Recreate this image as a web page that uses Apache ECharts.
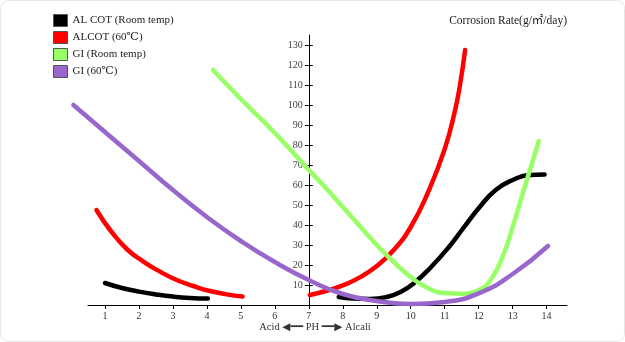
<!DOCTYPE html>
<html>
<head>
<meta charset="utf-8">
<script src="https://cdn.jsdelivr.net/npm/echarts@6/dist/echarts.min.js"></script>
<style>
  html, body { margin: 0; padding: 0; background: #fff; }
  #chart { width: 625px; height: 342px; }
</style>
</head>
<body>
<div id="chart"></div>
<script>
// pH ticks and corrosion-rate ticks
const phTicks = [1, 2, 3, 4, 5, 6, 7, 8, 9, 10, 11, 12, 13, 14];
const rateTicks = [10, 20, 30, 40, 50, 60, 70, 80, 90, 100, 110, 120, 130];

const seriesNames = ['AL COT (Room temp)', 'ALCOT (60℃)', 'GI (Room temp)', 'GI (60℃)'];
const seriesColors = ['#000000', '#ff0000', '#99ff66', '#9966cc'];

// [pH, corrosion rate] readings; each curve may be split in two pieces
const alCotRoomAcid = [[1, 11], [1.5, 8.5], [2, 6.7], [2.5, 5.3], [3, 4.2], [3.5, 3.5], [4.03, 3.2]];
const alCotRoomAlkali = [[7.88, 4], [8.3, 3.2], [8.8, 3], [9.3, 4], [9.7, 6.5], [10.1, 11],
  [10.6, 19], [11.1, 28.5], [11.55, 38.5], [12.03, 49], [12.5, 57.5], [13, 62.5], [13.5, 65], [13.94, 65.2]];

const alCot60Acid = [[0.75, 47.5], [1.15, 37.5], [1.64, 28], [2.13, 21.7], [2.62, 16.7], [3.11, 12.5],
  [3.6, 9.5], [4.09, 7], [4.58, 5.3], [5.05, 4.2]];
const alCot60Alkali = [[7.03, 5], [7.5, 7], [8, 9.8], [8.5, 13.8], [9, 19.5], [9.5, 27.5], [10, 39],
  [10.5, 56], [11, 78], [11.3, 97], [11.45, 110], [11.6, 127.5]];

const giRoom = [[4.18, 117.5], [5, 103], [6, 86], [7, 67.5], [7.5, 58.5], [8, 49], [8.5, 39.5], [9, 30],
  [9.5, 21.5], [10, 14], [10.5, 8.5], [11, 6], [11.5, 5.6], [12, 7.5], [12.35, 12.5], [12.7, 24], [13, 39],
  [13.3, 56], [13.6, 72.5], [13.77, 82]];

const gi60 = [[0.07, 100], [1, 86.5], [2, 72], [3, 57.5], [4, 44], [5, 32], [6, 21.5], [7, 12.5],
  [8, 5.5], [9, 2], [10, 0.5], [11, 1.5], [12, 5.8], [13, 15.5], [14.04, 29.5]];

// plotting scale starts at pH 0; the drawn pH axis starts at 0.5
const xMin = 0, xAxisStart = 0.5, xMax = 14.6, yMin = 0, yMax = 135;
const chartWidth = 625;
const gridRight = 58, gridTop = 35, gridBottom = 37;
const axisLeft = 88, axisRight = chartWidth - gridRight;
const pxPerUnit = (axisRight - axisLeft) / (xMax - xAxisStart);
const plotLeft = axisLeft - (xAxisStart - xMin) * pxPerUnit;
// vertical axis sits at pH 7
const yAxisOffset = -(7 - xMin) * pxPerUnit;

const serif = '"Liberation Serif", "DejaVu Serif", "Noto Sans CJK KR", serif';

function curve(name, color, data) {
  return {
    name: name,
    type: 'line',
    data: data,
    xAxisIndex: 0,
    yAxisIndex: 0,
    smooth: 0.5,
    symbol: 'none',
    color: color,
    lineStyle: { width: 4.5, color: color, cap: 'round', join: 'round' },
    emphasis: { disabled: true },
    z: 3
  };
}

const chart = echarts.init(document.getElementById('chart'), null, { renderer: 'canvas' });
chart.setOption({
  animation: false,
  backgroundColor: '#ffffff',
  title: {
    text: 'Corrosion Rate(g/㎡/day)',
    right: 58,
    top: 15,
    padding: 0,
    textStyle: { fontFamily: serif, fontSize: 11.5, fontWeight: 'normal', color: '#222' }
  },
  legend: {
    orient: 'vertical',
    left: 53,
    top: 14,
    padding: 0,
    itemWidth: 14,
    itemHeight: 12,
    itemGap: 4,
    icon: 'rect',
    data: seriesNames,
    itemStyle: { borderColor: '#555', borderWidth: 1 },
    textStyle: { fontFamily: serif, fontSize: 11, lineHeight: 12, color: '#222' }
  },
  grid: [
    { left: plotLeft, right: gridRight, top: gridTop, bottom: gridBottom },
    { left: axisLeft, right: gridRight, top: gridTop, bottom: gridBottom }
  ],
  xAxis: [{
    gridIndex: 0,
    type: 'value',
    min: xMin,
    max: xMax,
    show: true,
    splitLine: { show: false },
    axisLine: { show: false },
    axisTick: { show: false },
    axisLabel: { show: false }
  }, {
    gridIndex: 1,
    type: 'value',
    min: xAxisStart,
    max: xMax,
    splitLine: { show: false },
    axisLine: { onZero: false, lineStyle: { color: '#000', width: 1 } },
    axisTick: { customValues: phTicks, length: 4, lineStyle: { color: '#000' } },
    axisLabel: { customValues: phTicks, fontFamily: serif, fontSize: 10, color: '#333', margin: 6 }
  }],
  yAxis: [{
    gridIndex: 0,
    type: 'value',
    min: yMin,
    max: yMax,
    position: 'left',
    offset: yAxisOffset,
    splitLine: { show: false },
    axisLine: { show: true, lineStyle: { color: '#000', width: 1 } },
    axisTick: { customValues: rateTicks, length: 4, lineStyle: { color: '#000' } },
    axisLabel: { customValues: rateTicks, fontFamily: serif, fontSize: 10, color: '#444', margin: 6 }
  }, {
    gridIndex: 0,
    type: 'value',
    min: yMin,
    max: yMax,
    position: 'left',
    offset: yAxisOffset,
    splitLine: { show: false },
    axisLine: { show: false },
    axisTick: { customValues: rateTicks, inside: true, length: 4, lineStyle: { color: '#000' } },
    axisLabel: { show: false }
  }, {
    gridIndex: 1,
    type: 'value',
    min: yMin,
    max: yMax,
    show: false
  }],
  series: [
    curve(seriesNames[0], seriesColors[0], alCotRoomAcid),
    curve(seriesNames[0], seriesColors[0], alCotRoomAlkali),
    curve(seriesNames[1], seriesColors[1], alCot60Acid),
    curve(seriesNames[1], seriesColors[1], alCot60Alkali),
    curve(seriesNames[2], seriesColors[2], giRoom),
    curve(seriesNames[3], seriesColors[3], gi60)
  ],
  graphic: [{
    type: 'rect',
    shape: { x: 0.5, y: 0.5, width: 624, height: 341, r: 8 },
    style: { fill: 'none', stroke: '#e6e6e6', lineWidth: 1 },
    silent: true,
    z: -1
  }, {
    type: 'text',
    x: 315,
    y: 327,
    style: {
      text: 'Acid ◀━━ PH ━━▶ Alcali',
      fontFamily: serif,
      fontSize: 10.5,
      fill: '#333',
      align: 'center',
      verticalAlign: 'middle'
    },
    silent: true
  }]
});
</script>
</body>
</html>
